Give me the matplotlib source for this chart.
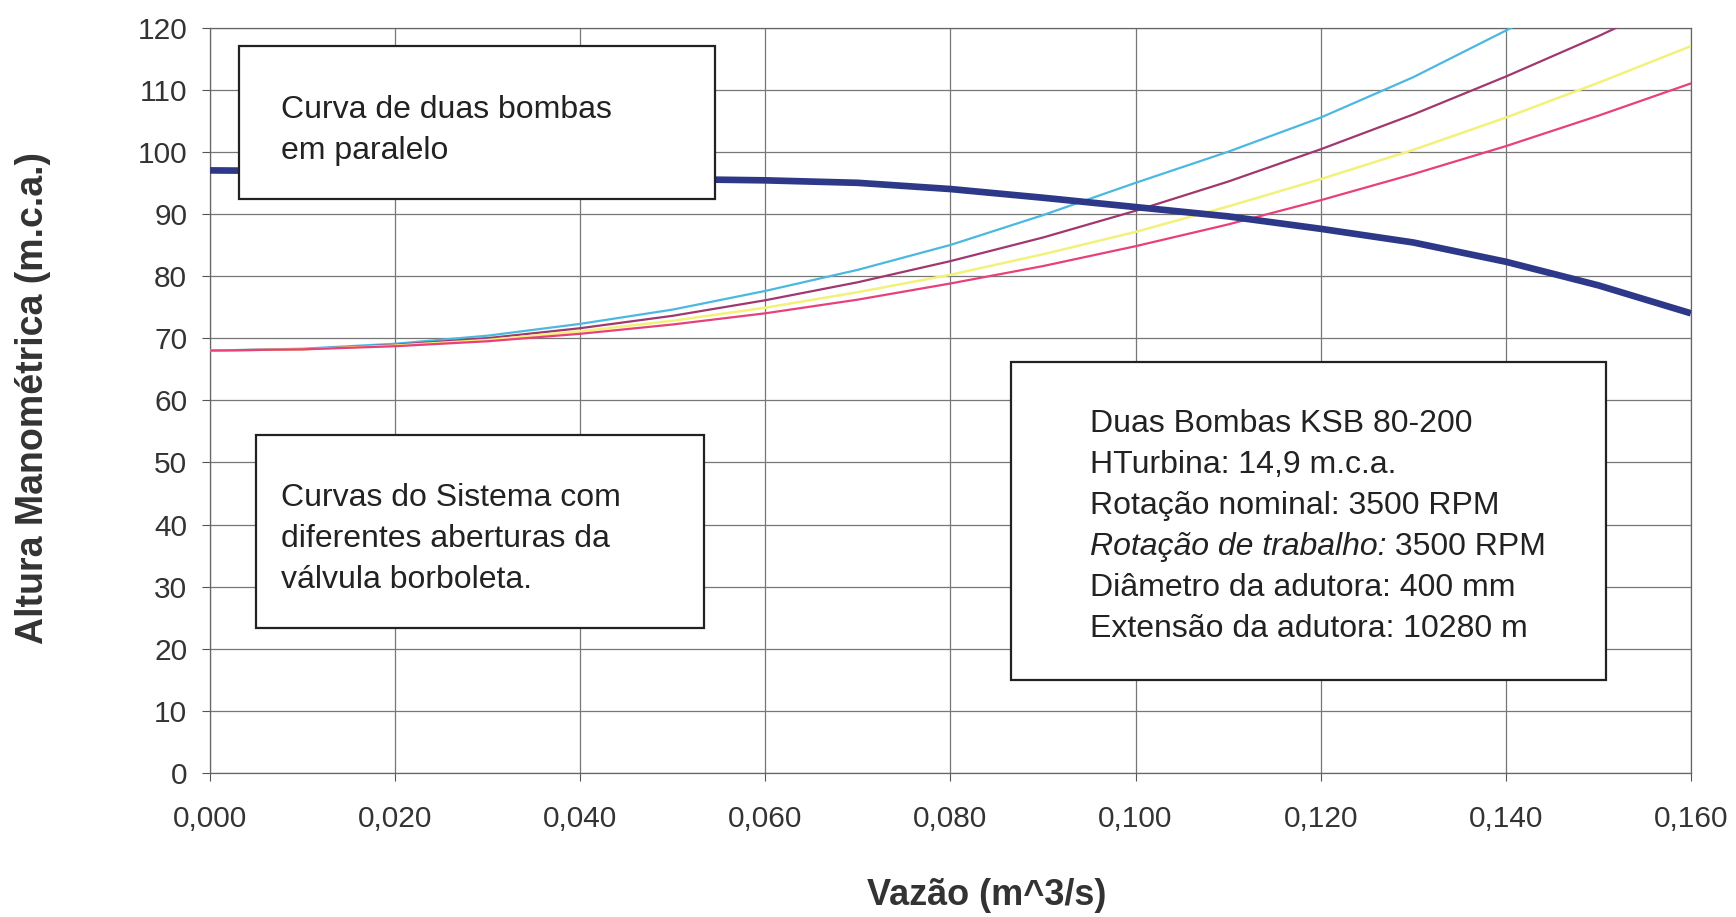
import matplotlib
matplotlib.use("Agg")
import matplotlib.pyplot as plt
from matplotlib.patches import Rectangle
from matplotlib import font_manager

# ---------------- data ----------------
pump_q = [0.00, 0.01, 0.02, 0.03, 0.04, 0.05, 0.06, 0.07, 0.08, 0.09,
          0.10, 0.11, 0.12, 0.13, 0.14, 0.15, 0.16]
pump_h = [97.0, 96.9, 96.7, 96.4, 96.0, 95.6, 95.4, 95.0, 94.0, 92.6,
          91.1, 89.6, 87.6, 85.4, 82.3, 78.5, 74.0]

sys_q = [0.00, 0.01, 0.02, 0.03, 0.04, 0.05, 0.06, 0.07, 0.08, 0.09,
         0.10, 0.11, 0.12, 0.13, 0.14, 0.15, 0.16]
sys_cyan = [68.0, 68.3, 69.1, 70.4, 72.3, 74.6, 77.6, 81.0, 85.0, 89.8,
            95.0, 100.0, 105.5, 112.0, 119.5, 127.0, 135.0]
sys_maroon = [68.0, 68.2, 68.9, 70.0, 71.6, 73.6, 76.1, 79.0, 82.4, 86.2,
              90.5, 95.2, 100.4, 106.0, 112.1, 118.6, 125.6]
sys_yellow = [68.0, 68.2, 68.8, 69.7, 71.1, 72.8, 74.9, 77.4, 80.2, 83.5,
              87.1, 91.2, 95.6, 100.3, 105.5, 111.1, 117.0]
sys_pink = [68.0, 68.2, 68.7, 69.5, 70.7, 72.2, 74.0, 76.2, 78.8, 81.6,
            84.8, 88.3, 92.2, 96.4, 100.9, 105.8, 111.0]

x_ticks = [0.000, 0.020, 0.040, 0.060, 0.080, 0.100, 0.120, 0.140, 0.160]
x_tick_labels = ["0,000", "0,020", "0,040", "0,060", "0,080", "0,100",
                 "0,120", "0,140", "0,160"]
y_ticks = [0, 10, 20, 30, 40, 50, 60, 70, 80, 90, 100, 110, 120]
y_tick_labels = [str(v) for v in y_ticks]

x_label = "Vazão (m^3/s)"
y_label = "Altura Manométrica (m.c.a.)"
box1_lines = ["Curva de duas bombas", "em paralelo"]
box2_lines = ["Curvas do Sistema com", "diferentes aberturas da",
              "válvula borboleta."]
box3_lines = ["Duas Bombas KSB 80-200", "HTurbina: 14,9 m.c.a.",
              "Rotação nominal: 3500 RPM",
              ("Rotação de trabalho:", " 3500 RPM"),
              "Diâmetro da adutora: 400 mm",
              "Extensão da adutora: 10280 m"]

# ---------------- fonts ----------------
names = {f.name for f in font_manager.fontManager.ttflist}
narrow = "Liberation Sans Narrow" if "Liberation Sans Narrow" in names else "Liberation Sans"
bold_font = "Liberation Sans" if "Liberation Sans" in names else "DejaVu Sans"

# ---------------- figure ----------------
fig = plt.figure(figsize=(17.36, 9.17), dpi=100)
ax = fig.add_axes([0.121, 0.157, 0.853, 0.813])

ax.plot(sys_q, sys_cyan, color="#4BB8E0", lw=1.6, zorder=3)
ax.plot(sys_q, sys_maroon, color="#A0386E", lw=1.6, zorder=3)
ax.plot(sys_q, sys_yellow, color="#F2F27A", lw=1.8, zorder=3)
ax.plot(sys_q, sys_pink, color="#E8407A", lw=1.6, zorder=3)
ax.plot(pump_q, pump_h, color="#2E3888", lw=4.8, zorder=4,
        solid_capstyle="butt")

ax.set_xlim(0, 0.16)
ax.set_ylim(0, 120)
ax.set_xticks(x_ticks)
ax.set_xticklabels(x_tick_labels, fontfamily=narrow, fontsize=21.5,
                   color="#333333")
ax.set_yticks(y_ticks)
ax.set_yticklabels(y_tick_labels, fontfamily=narrow, fontsize=21.5,
                   color="#333333")
ax.tick_params(axis="x", length=6, width=0.8, pad=17, color="#555555")
ax.tick_params(axis="y", length=6, width=0.8, pad=10.5, color="#555555")
ax.grid(True, color="#777777", lw=0.9)
ax.set_axisbelow(True)
for s in ax.spines.values():
    s.set_color("#666666")
    s.set_linewidth(0.9)

fig.text(0.5686, 0.023, x_label, ha="center", va="center",
         fontfamily=bold_font, fontweight="bold", fontsize=26, color="#333333")
fig.text(0.019, 0.566, y_label, ha="center", va="center", rotation=90,
         fontfamily=bold_font, fontweight="bold", fontsize=27, color="#333333")

# ---------------- annotation boxes ----------------
def box(x0, y0, x1, y1):
    r = Rectangle((x0, y0), x1 - x0, y1 - y0, transform=ax.transAxes,
                  facecolor="white", edgecolor="#222222", lw=1.6, zorder=6,
                  clip_on=False)
    ax.add_patch(r)

box(0.0196, 0.770, 0.341, 0.975)
box(0.031, 0.1946, 0.3336, 0.4535)
box(0.541, 0.1248, 0.943, 0.5515)

fs = 23
tkw = dict(transform=ax.transAxes, fontfamily=narrow, fontsize=fs,
           color="#222222", va="center", ha="left", zorder=7)
for i, line in enumerate(box1_lines):
    ax.text(0.048, 0.890 - i * 0.055, line, **tkw)
for i, line in enumerate(box2_lines):
    ax.text(0.048, 0.369 - i * 0.055, line, **tkw)
for i, line in enumerate(box3_lines):
    y = 0.468 - i * 0.055
    if isinstance(line, tuple):
        t = ax.text(0.594, y, line[0], style="italic", **tkw)
        ax.annotate(line[1], xy=(1, 0.5), xycoords=t, va="center", ha="left",
                    fontfamily=narrow, fontsize=fs, color="#222222", zorder=7)
    else:
        ax.text(0.594, y, line, **tkw)

fig.savefig("out.png", dpi=100, facecolor="white")
